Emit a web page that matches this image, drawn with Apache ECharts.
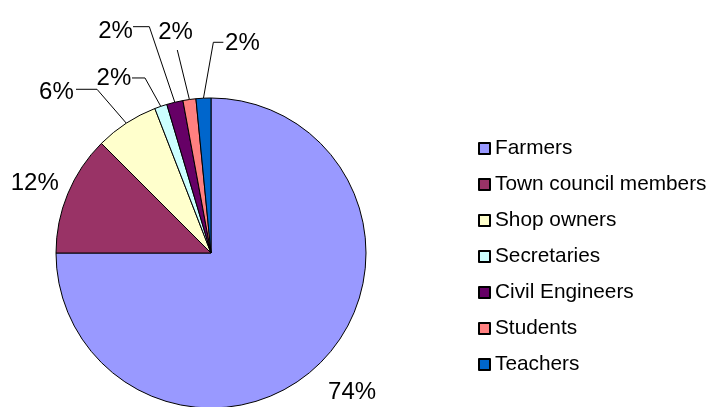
<!DOCTYPE html>
<html><head><meta charset="utf-8">
<script src="https://cdn.jsdelivr.net/npm/echarts@6/dist/echarts.min.js"></script>
<style>html,body{margin:0;padding:0;background:#fff}#c{width:710px;height:407px}</style>
</head><body><div id="c"></div>
<script>
const categories = ['Farmers','Town council members','Shop owners','Secretaries','Civil Engineers','Students','Teachers'];
const shares = [75, 12.5, 6.6, 1.3, 1.7, 1.35, 1.55];
const percentLabels = ['74%','12%','6%','2%','2%','2%','2%'];
const colors = ['#9999FF','#993366','#FFFFCC','#CCFFFF','#660066','#FF8080','#0066CC'];

// leader-line geometry, relative to the slice's outer anchor point given by ECharts
const guides = [
  {line:false, lx:7.5,  ly:30,    align:'left'},
  {line:false, lx:-9,   ly:-10,   align:'right'},
  {line:true, ex:-29.3, ey:-33.9, hx:-50.3, lx:-52.5, ly:-30.5, align:'right'},
  {line:true, ex:-15.8, ey:-28.4, hx:-28.8, lx:-29.5, ly:-28,   align:'right'},
  {line:true, ex:-25.5, ey:-75.6, hx:-41.8, lx:-42,   ly:-70.5, align:'right'},
  {line:true, ex:-12.1, ey:-49.5, hx:-12.1, lx:-13.9, ly:-67.5, align:'center'},
  {line:true, ex:9.9,   ey:-55.9, hx:19.9,  lx:21.6,  ly:-55,   align:'left'}
];

const FONT = "'Liberation Sans', Arial, sans-serif";
const chart = echarts.init(document.getElementById('c'), null, {renderer:'canvas'});
chart.setOption({
  animation: false,
  backgroundColor: '#fff',
  legend: {
    orient: 'vertical', left: 478, top: 138, padding: 0,
    itemWidth: 11, itemHeight: 11, itemGap: 15.0,
    icon: 'rect', selectedMode: false,
    textStyle: {fontSize: 20.8, fontFamily: FONT, color: '#000'},
    data: categories
  },
  series: [{
    type: 'pie',
    center: [211, 253],
    radius: 155,
    startAngle: 90,
    clockwise: true,
    avoidLabelOverlap: false,
    silent: true,
    itemStyle: {borderColor: '#000', borderWidth: 1},
    label: {
      show: true, position: 'outside',
      formatter: p => percentLabels[p.dataIndex],
      fontSize: 24, fontFamily: FONT, color: '#000'
    },
    labelLine: {show: true, length: 10, length2: 10, smooth: false,
      lineStyle: {color: '#000', width: 1}},
    labelLayout: function (params) {
      const g = guides[params.dataIndex];
      const pts = params.labelLinePoints;
      if (!pts) return {};
      const a = pts[0];
      const res = {
        x: a[0] + g.lx, y: a[1] + g.ly,
        align: g.align, verticalAlign: 'middle'
      };
      if (g.line) {
        res.labelLinePoints = [[a[0], a[1]], [a[0] + g.ex, a[1] + g.ey], [a[0] + g.hx, a[1] + g.ey]];
      } else {
        res.labelLinePoints = [[a[0], a[1]], [a[0], a[1]], [a[0], a[1]]];
      }
      return res;
    },
    data: categories.map((n, i) => ({
      name: n, value: shares[i],
      itemStyle: {color: colors[i]},
      labelLine: guides[i].line ? {} : {lineStyle: {opacity: 0}}
    }))
  }]
});
</script>
</body></html>
